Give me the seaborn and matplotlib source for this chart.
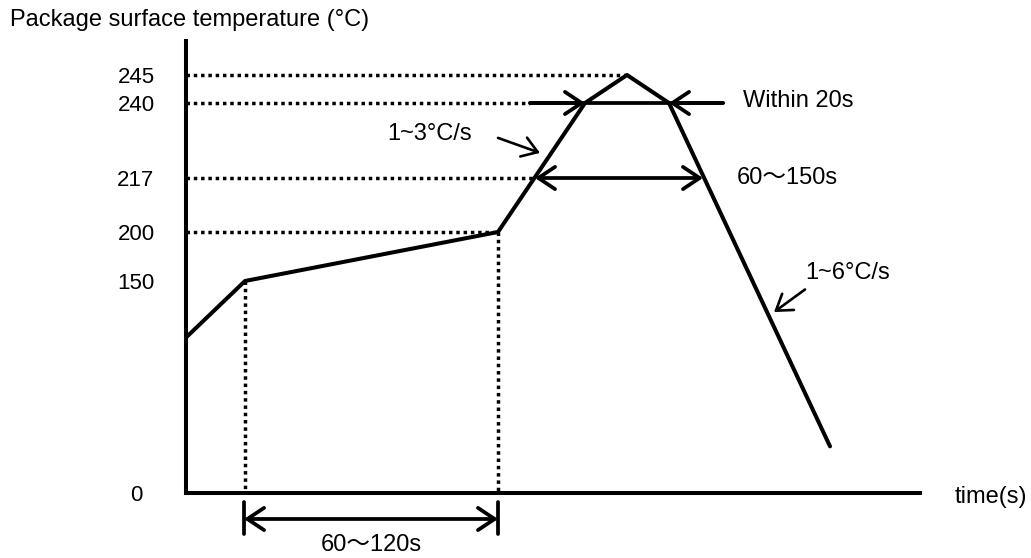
import numpy as np
import matplotlib
matplotlib.use("Agg")
import matplotlib.pyplot as plt
import seaborn as sns

# Reflow profile (schematic, not to scale)
time_pts = [0, 59, 312, 399, 441, 483, 644]
temp_pts = [110, 150, 200, 240, 245, 240, 33]

tick_temps = [0, 150, 200, 217, 240, 245]
tick_labels = ["0", "150", "200", "217", "240", "245"]

# the drawing is not to scale: temperature -> drawn height
scale_temps = [0, 150, 200, 217, 240, 245, 260]
scale_heights = [0, 212, 261, 315, 390, 418, 452]

# key times on the curve
t_150 = 59
t_200 = 312
t_peak = 441
t_217_up, t_217_down = 349, 517
t_240_up, t_240_down = 399, 483

sns.set_style("white")
plt.rcParams["font.family"] = ["Liberation Sans", "Noto Sans CJK JP", "DejaVu Sans"]
plt.rcParams["text.color"] = "black"
plt.rcParams["ytick.color"] = "black"


def fwd(v):
    return np.interp(v, scale_temps, scale_heights)


def inv(v):
    return np.interp(v, scale_heights, scale_temps)


fig = plt.figure(figsize=(10.31, 5.58), dpi=100)
ax = fig.add_axes([186 / 1031, 65 / 558, 734 / 1031, 452 / 558])
ax.set_yscale("function", functions=(fwd, inv))

sns.lineplot(x=time_pts, y=temp_pts, color="black", lw=2.9, sort=False, ax=ax)

dot = dict(color="black", lw=2.5, ls=(0, (1, 1.1)))
ax.plot([0, t_peak], [245, 245], **dot)
ax.plot([0, 344], [240, 240], **dot)
ax.plot([0, t_217_up], [217, 217], **dot)
ax.plot([0, t_200], [200, 200], **dot)
ax.plot([t_150, t_150], [150, 0], **dot)
ax.plot([t_200, t_200], [200, 0], **dot)

head = "->,head_length=0.6,head_width=0.4"
both = "<->,head_length=0.6,head_width=0.4"
big = dict(color="black", lw=2.7, mutation_scale=20, shrinkA=0, shrinkB=0)
small = dict(color="black", lw=1.9, mutation_scale=18, shrinkA=0, shrinkB=0)

# within 20s
ax.plot([344, 537], [240, 240], color="black", lw=2.7)
ax.annotate("", xy=(t_240_up, 240), xytext=(344, 240), arrowprops=dict(arrowstyle=head, **big))
ax.annotate("", xy=(t_240_down, 240), xytext=(537, 240), arrowprops=dict(arrowstyle=head, **big))
ax.text(557, 240.3, "Within 20s", fontsize=17, ha="left", va="center")

# 60~150s above 217
ax.annotate("", xy=(t_217_down, 217), xytext=(t_217_up, 217), arrowprops=dict(arrowstyle=both, **big))
ax.text(551, 217, "60～150s", fontsize=17, ha="left", va="center")

# slopes
ax.annotate("", xy=(354, 224.7), xytext=(312, 229.3), arrowprops=dict(arrowstyle=head, **small))
ax.text(286, 230.5, "1~3°C/s", fontsize=17, ha="right", va="center")
ax.annotate("", xy=(588, 128), xytext=(619, 144), arrowprops=dict(arrowstyle=head, **small))
ax.text(619, 158, "1~6°C/s", fontsize=17, ha="left", va="center")

# 60~120s below the time axis
xt = ax.get_xaxis_transform()
ax.annotate("", xy=(t_200, -0.0575), xytext=(t_150 - 1, -0.0575),
            xycoords=xt, textcoords=xt, arrowprops=dict(arrowstyle=both, **big))
for t in [t_150 - 1, t_200]:
    ax.plot([t, t], [-0.02, -0.09], color="black", lw=2.7, transform=xt, clip_on=False)
ax.text((t_150 + t_200) / 2, -0.115, "60～120s", fontsize=17, ha="center", va="center",
        transform=xt)

ax.set_xlim(0, 734)
ax.set_ylim(0, 260)
ax.set_xticks([])
ax.set_yticks(tick_temps)
ax.set_yticklabels(tick_labels)
ax.tick_params(axis="y", length=0, pad=36, labelsize=16, labelcolor="black")
for lab in ax.get_yticklabels():
    lab.set_ha("center")
ax.set_xlabel("")
ax.set_ylabel("")
for side in ["top", "right"]:
    ax.spines[side].set_visible(False)
for side in ["left", "bottom"]:
    ax.spines[side].set_linewidth(2.9)
    ax.spines[side].set_color("black")

fig.text(10 / 1031, 1 - 20 / 558, "Package surface temperature (°C)", fontsize=17,
         ha="left", va="center")
fig.text(955 / 1031, 1 - 497 / 558, "time(s)", fontsize=17, ha="left", va="center")

fig.savefig("out.png", dpi=100)
